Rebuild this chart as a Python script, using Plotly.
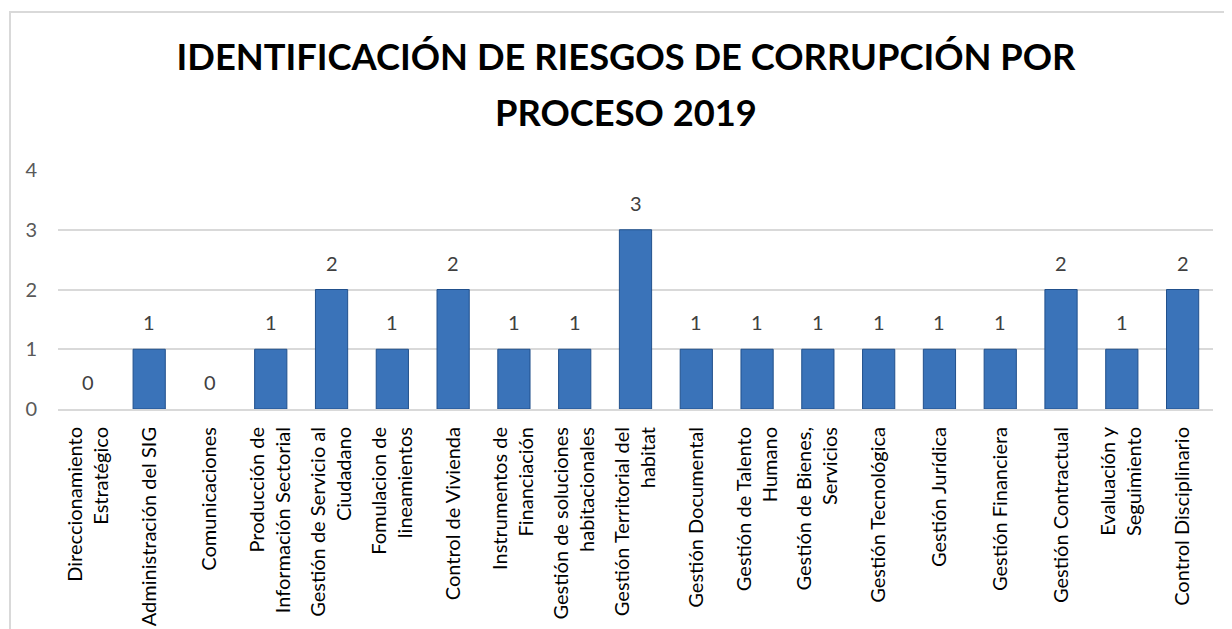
import plotly.graph_objects as go

categories = [
    "Direccionamiento<br>Estratégico",
    "Administración del SIG",
    "Comunicaciones",
    "Producción de<br>Información Sectorial",
    "Gestión de Servicio al<br>Ciudadano",
    "Fomulacion de<br>lineamientos",
    "Control de Vivienda",
    "Instrumentos de<br>Financiación",
    "Gestión de soluciones<br>habitacionales",
    "Gestión Territorial del<br>habitat",
    "Gestión Documental",
    "Gestión de Talento<br>Humano",
    "Gestión de Bienes,<br>Servicios",
    "Gestión Tecnológica",
    "Gestión Jurídica",
    "Gestión Financiera",
    "Gestión Contractual",
    "Evaluación y<br>Seguimiento",
    "Control Disciplinario",
]
values = [0, 1, 0, 1, 2, 1, 2, 1, 1, 3, 1, 1, 1, 1, 1, 1, 2, 1, 2]
y_ticks = [0, 1, 2, 3, 4]
title_line1 = "IDENTIFICACIÓN DE RIESGOS DE CORRUPCIÓN POR"
title_line2 = "PROCESO 2019"

FONT = "Lato, 'Open Sans', sans-serif"
W, H = 1232, 629
ML, MR, MT, MB = 50, 27, 162, 228
PW, PH = W - ML - MR, H - MT - MB
TITLE_CX = 618

def px_x(p):
    return (p - ML) / PW

def px_y(p):
    return (H - MB - p) / PH

fig = go.Figure()
fig.add_trace(go.Bar(
    x=categories,
    y=values,
    marker=dict(
        color="#3a73b9",
        line=dict(color="#21508c", width=[0 if v == 0 else 1 for v in values]),
    ),
))

annotations = [
    dict(x=c, y=v, xref="x", yref="y", text=str(v), showarrow=False,
         yanchor="bottom", yshift=13,
         font=dict(family=FONT, size=20, color="#404040"))
    for c, v in zip(categories, values)
]
annotations.append(dict(
    x=px_x(TITLE_CX), y=px_y(104.5), xref="paper", yref="paper",
    text="<b>" + title_line2 + "</b>", showarrow=False,
    xanchor="center", yanchor="middle",
    font=dict(family=FONT, size=36.3, color="#000000"),
))

fig.update_layout(
    width=W, height=H,
    margin=dict(l=ML, r=MR, t=MT, b=MB),
    paper_bgcolor="white",
    plot_bgcolor="white",
    showlegend=False,
    bargap=0.47,
    title=dict(
        text="<b>" + title_line1 + "</b>",
        x=TITLE_CX / W, xanchor="center",
        y=1 - 37 / H, yref="container", yanchor="top",
        font=dict(family=FONT, size=36.3, color="#000000"),
    ),
    xaxis=dict(
        type="category",
        tickmode="array",
        tickvals=categories,
        ticktext=categories,
        tickangle=-90,
        tickfont=dict(family=FONT, size=20, color="#000000"),
        showline=True, linecolor="#d9d9d9", linewidth=2,
        showgrid=False,
        ticks="",
        ticklabelstandoff=8,
    ),
    yaxis=dict(
        range=[0, 4],
        tickvals=y_ticks,
        tickfont=dict(family=FONT, size=20, color="#595959"),
        showgrid=True, gridcolor="#d9d9d9", gridwidth=2,
        zeroline=False,
        showline=False,
        ticks="",
        ticklabelstandoff=20,
    ),
    annotations=annotations,
    shapes=[dict(
        type="rect", xref="paper", yref="paper",
        x0=px_x(2), x1=px_x(W + 20), y0=px_y(H + 20), y1=px_y(4),
        line=dict(color="#d9d9d9", width=2), fillcolor="rgba(0,0,0,0)",
        layer="below",
    )],
)

fig.write_html("out.html")
